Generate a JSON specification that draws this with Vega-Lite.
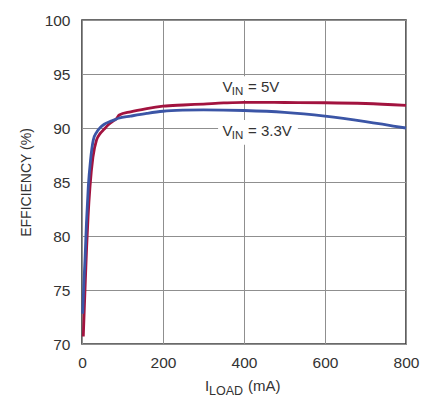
{
  "$schema": "https://vega.github.io/schema/vega-lite/v6.json",
  "width": 324,
  "height": 324,
  "autosize": {"type": "none"},
  "padding": {"left": 82, "top": 20, "right": 29, "bottom": 57},
  "background": "white",
  "config": {
    "view": {"stroke": "#3a3a3a", "strokeWidth": 1.6},
    "font": "Liberation Sans",
    "text": {"font": "Liberation Sans", "color": "#333333"},
    "axis": {
      "grid": true,
      "gridColor": "#8f8f8f",
      "gridWidth": 1,
      "domain": false,
      "ticks": false,
      "tickSize": 0,
      "labelFlush": false,
      "labelFont": "Liberation Sans",
      "labelFontSize": 15.5,
      "labelColor": "#333333",
      "titleFont": "Liberation Sans",
      "titleFontSize": 14,
      "titleFontWeight": "normal",
      "titleColor": "#333333"
    }
  },
  "datasets": {
    "one": [{}]
  },
  "data": {
    "values": [
      {"iload": 3.2, "eff": 70.7, "vin": "5V"},
      {"iload": 6, "eff": 73.6, "vin": "5V"},
      {"iload": 9, "eff": 76.6, "vin": "5V"},
      {"iload": 11.5, "eff": 79.0, "vin": "5V"},
      {"iload": 15, "eff": 81.8, "vin": "5V"},
      {"iload": 19.8, "eff": 84.6, "vin": "5V"},
      {"iload": 27, "eff": 87.3, "vin": "5V"},
      {"iload": 36, "eff": 88.9, "vin": "5V"},
      {"iload": 45, "eff": 89.5, "vin": "5V"},
      {"iload": 55, "eff": 89.9, "vin": "5V"},
      {"iload": 65, "eff": 90.3, "vin": "5V"},
      {"iload": 77, "eff": 90.65, "vin": "5V"},
      {"iload": 85, "eff": 90.85, "vin": "5V"},
      {"iload": 92, "eff": 91.2, "vin": "5V"},
      {"iload": 120, "eff": 91.5, "vin": "5V"},
      {"iload": 160, "eff": 91.8, "vin": "5V"},
      {"iload": 200, "eff": 92.02, "vin": "5V"},
      {"iload": 250, "eff": 92.13, "vin": "5V"},
      {"iload": 300, "eff": 92.22, "vin": "5V"},
      {"iload": 350, "eff": 92.32, "vin": "5V"},
      {"iload": 400, "eff": 92.38, "vin": "5V"},
      {"iload": 450, "eff": 92.37, "vin": "5V"},
      {"iload": 500, "eff": 92.36, "vin": "5V"},
      {"iload": 600, "eff": 92.34, "vin": "5V"},
      {"iload": 700, "eff": 92.27, "vin": "5V"},
      {"iload": 800, "eff": 92.1, "vin": "5V"},
      {"iload": 1.6, "eff": 72.8, "vin": "3.3V"},
      {"iload": 4.5, "eff": 75.5, "vin": "3.3V"},
      {"iload": 7.4, "eff": 77.8, "vin": "3.3V"},
      {"iload": 11, "eff": 81.2, "vin": "3.3V"},
      {"iload": 15.6, "eff": 84.6, "vin": "3.3V"},
      {"iload": 21, "eff": 87.0, "vin": "3.3V"},
      {"iload": 28, "eff": 88.9, "vin": "3.3V"},
      {"iload": 36, "eff": 89.6, "vin": "3.3V"},
      {"iload": 44, "eff": 90.0, "vin": "3.3V"},
      {"iload": 55, "eff": 90.35, "vin": "3.3V"},
      {"iload": 69, "eff": 90.6, "vin": "3.3V"},
      {"iload": 80, "eff": 90.75, "vin": "3.3V"},
      {"iload": 90, "eff": 90.9, "vin": "3.3V"},
      {"iload": 120, "eff": 91.1, "vin": "3.3V"},
      {"iload": 160, "eff": 91.35, "vin": "3.3V"},
      {"iload": 200, "eff": 91.55, "vin": "3.3V"},
      {"iload": 250, "eff": 91.65, "vin": "3.3V"},
      {"iload": 300, "eff": 91.68, "vin": "3.3V"},
      {"iload": 400, "eff": 91.62, "vin": "3.3V"},
      {"iload": 500, "eff": 91.45, "vin": "3.3V"},
      {"iload": 600, "eff": 91.1, "vin": "3.3V"},
      {"iload": 700, "eff": 90.6, "vin": "3.3V"},
      {"iload": 800, "eff": 90.0, "vin": "3.3V"}
    ]
  },
  "layer": [
    {
      "data": {"name": "one"},
      "mark": {"type": "rect", "color": "white"},
      "encoding": {
        "x": {"datum": 336, "type": "quantitative"},
        "x2": {"datum": 501},
        "y": {"datum": 92.6, "type": "quantitative"},
        "y2": {"datum": 94.8}
      }
    },
    {
      "data": {"name": "one"},
      "mark": {"type": "rect", "color": "white"},
      "encoding": {
        "x": {"datum": 336, "type": "quantitative"},
        "x2": {"datum": 533},
        "y": {"datum": 88.45, "type": "quantitative"},
        "y2": {"datum": 90.75}
      }
    },
    {
      "mark": {"type": "line", "strokeWidth": 2.8, "interpolate": "monotone"},
      "encoding": {
        "x": {
          "field": "iload",
          "type": "quantitative",
          "scale": {"domain": [0, 800], "nice": false, "zero": false},
          "axis": {"values": [0, 200, 400, 600, 800], "labelPadding": 11, "title": null}
        },
        "y": {
          "field": "eff",
          "type": "quantitative",
          "scale": {"domain": [70, 100], "nice": false, "zero": false},
          "axis": {"values": [70, 75, 80, 85, 90, 95, 100], "labelPadding": 12, "title": "EFFICIENCY (%)", "titlePadding": 11}
        },
        "color": {
          "field": "vin",
          "type": "nominal",
          "scale": {"domain": ["5V", "3.3V"], "range": ["#a2133f", "#3b55a6"]},
          "legend": null
        },
        "order": {"field": "iload", "type": "quantitative"}
      }
    },
    {
      "data": {"name": "one"},
      "mark": {"type": "text", "align": "left", "baseline": "alphabetic", "fontSize": 15},
      "encoding": {
        "x": {"datum": 347, "type": "quantitative"},
        "y": {"datum": 93.36, "type": "quantitative"},
        "text": {"value": "V"}
      }
    },
    {
      "data": {"name": "one"},
      "mark": {"type": "text", "align": "left", "baseline": "alphabetic", "fontSize": 11.5},
      "encoding": {
        "x": {"datum": 370, "type": "quantitative"},
        "y": {"datum": 93.06, "type": "quantitative"},
        "text": {"value": "IN"}
      }
    },
    {
      "data": {"name": "one"},
      "mark": {"type": "text", "align": "left", "baseline": "alphabetic", "fontSize": 15},
      "encoding": {
        "x": {"datum": 410, "type": "quantitative"},
        "y": {"datum": 93.36, "type": "quantitative"},
        "text": {"value": "= 5V"}
      }
    },
    {
      "data": {"name": "one"},
      "mark": {"type": "text", "align": "left", "baseline": "alphabetic", "fontSize": 15},
      "encoding": {
        "x": {"datum": 347, "type": "quantitative"},
        "y": {"datum": 89.26, "type": "quantitative"},
        "text": {"value": "V"}
      }
    },
    {
      "data": {"name": "one"},
      "mark": {"type": "text", "align": "left", "baseline": "alphabetic", "fontSize": 11.5},
      "encoding": {
        "x": {"datum": 370, "type": "quantitative"},
        "y": {"datum": 88.95, "type": "quantitative"},
        "text": {"value": "IN"}
      }
    },
    {
      "data": {"name": "one"},
      "mark": {"type": "text", "align": "left", "baseline": "alphabetic", "fontSize": 15},
      "encoding": {
        "x": {"datum": 410, "type": "quantitative"},
        "y": {"datum": 89.26, "type": "quantitative"},
        "text": {"value": "= 3.3V"}
      }
    },
    {
      "data": {"name": "one"},
      "mark": {"type": "text", "align": "left", "baseline": "alphabetic", "fontSize": 15},
      "encoding": {
        "x": {"datum": 303.7, "type": "quantitative"},
        "y": {"datum": 65.65, "type": "quantitative"},
        "text": {"value": "I"}
      }
    },
    {
      "data": {"name": "one"},
      "mark": {"type": "text", "align": "left", "baseline": "alphabetic", "fontSize": 12.5},
      "encoding": {
        "x": {"datum": 313.6, "type": "quantitative"},
        "y": {"datum": 65.28, "type": "quantitative"},
        "text": {"value": "LOAD"}
      }
    },
    {
      "data": {"name": "one"},
      "mark": {"type": "text", "align": "left", "baseline": "alphabetic", "fontSize": 15},
      "encoding": {
        "x": {"datum": 410, "type": "quantitative"},
        "y": {"datum": 65.65, "type": "quantitative"},
        "text": {"value": "(mA)"}
      }
    }
  ]
}
